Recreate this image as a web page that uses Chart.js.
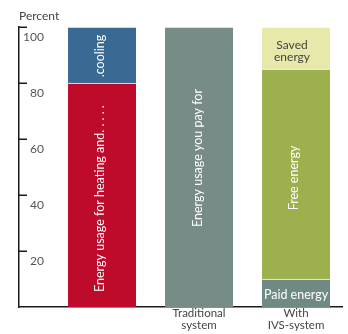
<!DOCTYPE html>
<html><head><meta charset="utf-8">
<script src="https://cdn.jsdelivr.net/npm/chart.js@4/dist/chart.umd.min.js"></script>
<style>html,body{margin:0;padding:0;background:#fff}</style>
</head><body>
<canvas id="c" width="348" height="334"></canvas>
<script>
// ---- data ----
const categories = ["", "Traditional system", "With IVS-system"];
const categoryLabels = [[""], ["Traditional", "system"], ["With", "IVS-system"]];
const heating = [80, null, null];
const cooling = [20, null, null];
const traditional = [null, 100, null];
const paid = [null, null, 10];
const free = [null, null, 75];
const saved = [null, null, 15];
const yTicks = [20, 40, 60, 80, 100];
const yAxisTitle = "Percent";
const heatingText = "Energy usage for heating and. . . . .";
const coolingText = ".cooling";
const traditionalText = "Energy usage you pay for";
const paidText = "Paid energy";
const freeText = "Free energy";
const savedText = ["Saved", "energy"];

const FONT = "Lato, 'Open Sans', sans-serif";

function pts(arr) {
  return arr.map((v, i) => (v == null ? null : { x: i, y: v })).filter(p => p);
}

function ds(values, color, seg) {
  return {
    data: pts(values),
    backgroundColor: color,
    borderColor: '#ffffff',
    borderWidth: { top: 1, left: 0, right: 0, bottom: 0 },
    borderSkipped: false,
    barThickness: 68,
    segLabel: seg
  };
}

const segLabelPlugin = {
  id: 'segLabels',
  afterDatasetsDraw(chart) {
    const ctx = chart.ctx;
    chart.data.datasets.forEach((d, di) => {
      const o = d.segLabel;
      if (!o) return;
      chart.getDatasetMeta(di).data.forEach(el => {
        const top = Math.min(el.y, el.base), bot = Math.max(el.y, el.base);
        ctx.save();
        ctx.fillStyle = o.color;
        ctx.font = o.size + 'px ' + FONT;
        ctx.textBaseline = 'middle';
        const cx = el.x + (o.dx || 0);
        if (o.rotate) {
          let ay, align;
          if (o.anchor === 'start') { ay = bot - o.inset; align = 'left'; }
          else { ay = (top + bot) / 2 + (o.dy || 0); align = 'center'; }
          ctx.translate(cx, ay);
          ctx.rotate(-Math.PI / 2);
          ctx.textAlign = align;
          ctx.fillText(o.text, 0, 0);
        } else {
          const lines = Array.isArray(o.text) ? o.text : [o.text];
          const lh = o.lineHeight || o.size;
          const cy = (top + bot) / 2 + (o.dy || 0);
          ctx.textAlign = 'center';
          lines.forEach((t, i) => {
            ctx.fillText(t, cx, cy + (i - (lines.length - 1) / 2) * lh);
          });
        }
        ctx.restore();
      });
    });
  }
};

const tickMarkPlugin = {
  id: 'tickMarks',
  afterDraw(chart) {
    const ctx = chart.ctx, ys = chart.scales.y, left = chart.chartArea.left;
    ctx.save();
    ctx.strokeStyle = '#1a1a1a';
    ctx.lineWidth = 1.5;
    yTicks.forEach(v => {
      const y = Math.round(ys.getPixelForValue(v)) + 0.25;
      ctx.beginPath();
      ctx.moveTo(left, y);
      ctx.lineTo(left + 8, y);
      ctx.stroke();
    });
    ctx.restore();
  }
};

new Chart(document.getElementById('c'), {
  type: 'bar',
  data: {
    datasets: [
      ds(heating, '#BE0A2B', { text: heatingText, rotate: true, anchor: 'start', inset: 15, color: '#ffffff', size: 12.5, dx: -2 }),
      ds(cooling, '#386A93', { text: coolingText, rotate: true, anchor: 'center', dy: 1, color: '#ffffff', size: 12.5, dx: -2 }),
      ds(traditional, '#778C87', { text: traditionalText, rotate: true, anchor: 'center', dy: -9, color: '#ffffff', size: 12.5, dx: -1 }),
      ds(paid, '#6F8985', { text: paidText, rotate: false, dy: 2, color: '#ffffff', size: 12.5 }),
      ds(free, '#9CB04D', { text: freeText, rotate: true, anchor: 'center', dy: 4, color: '#ffffff', size: 12.5, dx: -2 }),
      ds(saved, '#E7E9AA', { text: savedText, rotate: false, dy: 3, dx: -4, color: '#444444', size: 12, lineHeight: 11.5 })
    ]
  },
  options: {
    responsive: false,
    animation: false,
    layout: { padding: { left: 19, right: 6, top: 0, bottom: 2 } },
    plugins: {
      legend: { display: false },
      tooltip: { enabled: false },
      title: {
        display: true,
        text: yAxisTitle,
        align: 'start',
        color: '#444444',
        font: { family: FONT, size: 12, weight: 'normal', lineHeight: 1.2 },
        padding: { top: 9, bottom: 3.6 }
      }
    },
    scales: {
      x: {
        type: 'linear',
        stacked: true,
        min: -0.856,
        max: 2.474,
        offset: false,
        grid: { display: false, drawTicks: false },
        border: { display: true, color: '#1a1a1a', width: 1.5 },
        afterBuildTicks: s => { s.ticks = categories.map((c, i) => ({ value: i })); },
        ticks: {
          autoSkip: false,
          maxRotation: 0,
          padding: 1,
          color: '#444444',
          font: { family: FONT, size: 11.5, lineHeight: 1.0 },
          callback: v => categoryLabels[v]
        }
      },
      y: {
        stacked: true,
        min: 0,
        max: 100,
        grid: { display: false, drawTicks: false },
        border: { display: true, color: '#1a1a1a', width: 1.5 },
        afterBuildTicks: s => { s.ticks = yTicks.map(v => ({ value: v })); },
        afterFit: s => { s.width = 0; },
        ticks: {
          mirror: true,
          crossAlign: 'far',
          padding: 4,
          labelOffset: 10,
          color: '#555555',
          font: { family: FONT, size: 12 }
        }
      }
    }
  },
  plugins: [segLabelPlugin, tickMarkPlugin]
});
</script>
</body></html>
